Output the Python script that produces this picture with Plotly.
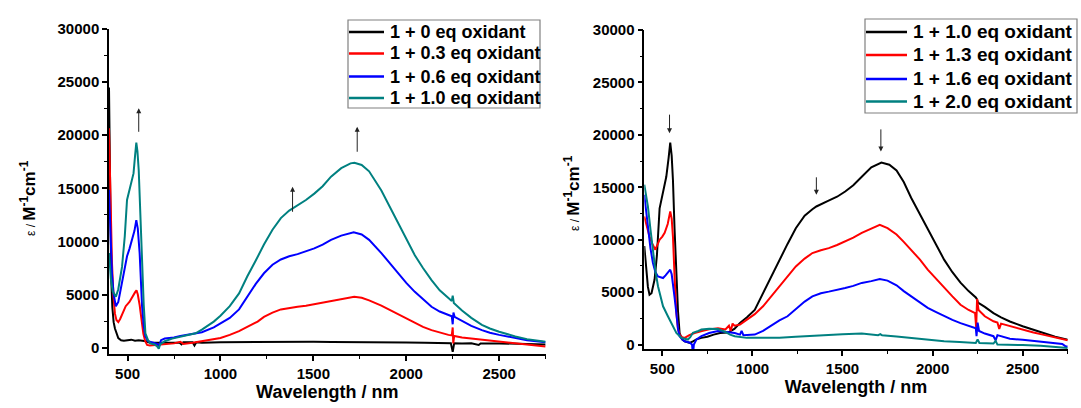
import plotly.graph_objects as go

# ---------------- Left panel data ----------------
wl_L0 = [400, 403, 407, 412, 418, 425, 432, 440, 450, 465, 480, 500, 520, 540, 560, 580, 600, 620, 650, 700, 750, 780, 790, 800, 850, 860, 870, 900, 1000, 1100, 1200, 1300, 1400, 1500, 1600, 1700, 1800, 1900, 2000, 2100, 2200, 2240, 2250, 2258, 2300, 2350, 2390, 2400, 2500, 2600, 2700, 2750]
eps_L0 = [24500, 18000, 11000, 6500, 3800, 2400, 1800, 1300, 900, 700, 650, 700, 750, 650, 700, 650, 600, 450, 450, 500, 480, 450, 300, 500, 500, 200, 500, 450, 500, 520, 530, 550, 560, 560, 540, 540, 520, 500, 480, 450, 430, 420, -400, 420, 400, 420, 250, 400, 400, 380, 350, 300]

wl_L3 = [400, 405, 410, 416, 424, 432, 440, 450, 460, 475, 490, 510, 525, 540, 548, 555, 565, 575, 585, 595, 605, 620, 650, 700, 750, 784, 800, 850, 900, 964, 1000, 1050, 1100, 1144, 1200, 1234, 1280, 1325, 1370, 1415, 1460, 1505, 1550, 1595, 1650, 1700, 1720, 1760, 1800, 1866, 1910, 1956, 2000, 2046, 2090, 2136, 2180, 2227, 2245, 2250, 2253, 2258, 2300, 2350, 2407, 2500, 2587, 2650, 2700, 2750]
eps_L3 = [20650, 15500, 11500, 8000, 4800, 3200, 2600, 2400, 2700, 3300, 3900, 4300, 4800, 5200, 5400, 5000, 4000, 2700, 1300, 600, 250, 200, 250, 300, 400, 550, 350, 450, 600, 750, 900, 1200, 1550, 1950, 2450, 2900, 3300, 3600, 3750, 3850, 3950, 4100, 4250, 4420, 4600, 4780, 4800, 4700, 4450, 3950, 3550, 3100, 2700, 2300, 1950, 1650, 1400, 1200, 1150, 1900, 400, 1100, 950, 850, 730, 550, 420, 300, 200, 100]

wl_L6 = [400, 408, 416, 425, 437, 450, 470, 485, 497, 510, 524, 537, 547, 555, 565, 572, 578, 587, 596, 610, 623, 640, 660, 670, 680, 700, 750, 784, 866, 900, 964, 1000, 1050, 1100, 1144, 1190, 1234, 1280, 1325, 1370, 1415, 1460, 1505, 1550, 1595, 1650, 1717, 1760, 1800, 1866, 1910, 1956, 2000, 2046, 2090, 2136, 2180, 2227, 2245, 2250, 2254, 2260, 2300, 2350, 2407, 2450, 2500, 2587, 2650, 2700, 2750]
eps_L6 = [14850, 10500, 7000, 5000, 3900, 4300, 6000, 7600, 8600, 9300, 10100, 11000, 12000, 11200, 8900, 6000, 3900, 2000, 1050, 600, 550, 500, 350, 150, 700, 850, 950, 1100, 1350, 1450, 1900, 2250, 2800, 3600, 4800, 6000, 7000, 7800, 8300, 8600, 8800, 9050, 9350, 9700, 10150, 10550, 10850, 10650, 10150, 8900, 7950, 7000, 6100, 5250, 4550, 3850, 3400, 3050, 2950, 2200, 3300, 2900, 2500, 2050, 1650, 1400, 1200, 880, 700, 600, 500]

wl_L10 = [400, 410, 420, 437, 450, 470, 485, 497, 515, 532, 540, 547, 553, 560, 570, 578, 587, 596, 610, 623, 645, 660, 668, 675, 700, 740, 784, 866, 900, 964, 1000, 1050, 1100, 1144, 1190, 1234, 1280, 1325, 1370, 1415, 1460, 1505, 1550, 1595, 1650, 1700, 1721, 1760, 1800, 1866, 1910, 1956, 2000, 2046, 2090, 2136, 2180, 2227, 2245, 2250, 2256, 2300, 2350, 2407, 2450, 2500, 2587, 2650, 2700, 2750]
eps_L10 = [8900, 6500, 5300, 4800, 5500, 7600, 10500, 13900, 15200, 16400, 18000, 19300, 18500, 16700, 12000, 7600, 4000, 1350, 700, 400, 300, 100, -100, 300, 600, 850, 1050, 1350, 1700, 2450, 3000, 3900, 5100, 6700, 8200, 9700, 11100, 12200, 12900, 13400, 13900, 14500, 15200, 16100, 16900, 17350, 17400, 17200, 16600, 14800, 13300, 11700, 10200, 8700, 7500, 6350, 5400, 4650, 4400, 4900, 4200, 3500, 2800, 2150, 1800, 1500, 1050, 800, 650, 550]

# ---------------- Right panel data ----------------
wl_R10 = [400, 410, 420, 429, 440, 457, 470, 485, 504, 522, 535, 544, 552, 559, 568, 578, 587, 596, 610, 624, 652, 670, 690, 717, 750, 785, 820, 864, 900, 931, 970, 1013, 1059, 1100, 1150, 1195, 1241, 1290, 1333, 1355, 1420, 1470, 1515, 1560, 1607, 1660, 1716, 1760, 1800, 1840, 1881, 1930, 1973, 2020, 2064, 2110, 2155, 2200, 2240, 2247, 2252, 2290, 2338, 2380, 2429, 2500, 2560, 2612, 2680, 2750]
eps_R10 = [9400, 7000, 5500, 4760, 4900, 6200, 8500, 13000, 14400, 16000, 17800, 19270, 18000, 15700, 11000, 6200, 3200, 1100, 500, 320, 160, 300, 500, 640, 750, 950, 1100, 1150, 1500, 2050, 2600, 3300, 4900, 6300, 8100, 9600, 11100, 12300, 12900, 13170, 13700, 14100, 14600, 15200, 16000, 16900, 17360, 17150, 16600, 15500, 14000, 12400, 10950, 9500, 8100, 6900, 5900, 5100, 4500, 4300, 4000, 3600, 3000, 2600, 2200, 1750, 1400, 1100, 750, 475]

wl_R13 = [400, 415, 429, 445, 461, 475, 485, 500, 513, 530, 544, 552, 559, 568, 578, 587, 596, 610, 624, 650, 679, 720, 760, 809, 850, 870, 880, 890, 900, 931, 970, 1013, 1059, 1100, 1150, 1195, 1241, 1290, 1333, 1380, 1424, 1470, 1515, 1560, 1607, 1660, 1707, 1750, 1800, 1840, 1881, 1930, 1973, 2020, 2064, 2110, 2155, 2200, 2236, 2242, 2247, 2255, 2290, 2338, 2360, 2370, 2380, 2429, 2500, 2560, 2612, 2680, 2750]
eps_R13 = [12220, 11300, 10300, 9600, 9050, 9600, 10000, 10300, 10650, 11500, 12700, 12000, 10300, 6500, 3000, 1500, 950, 700, 640, 900, 1100, 1300, 1450, 1550, 1450, 1800, 1300, 2000, 1800, 1900, 2400, 2900, 3650, 4500, 5550, 6500, 7450, 8200, 8730, 9000, 9200, 9500, 9850, 10200, 10650, 11050, 11430, 11100, 10500, 9800, 9050, 8100, 7150, 6250, 5400, 4600, 3800, 3300, 3000, 1600, 4350, 3300, 2700, 2220, 2100, 1500, 2000, 1750, 1400, 1150, 950, 650, 410]

wl_R16 = [400, 410, 420, 434, 448, 462, 476, 490, 504, 518, 531, 544, 552, 559, 568, 578, 587, 596, 610, 624, 650, 665, 670, 675, 690, 717, 760, 809, 850, 902, 931, 940, 950, 1013, 1059, 1100, 1150, 1195, 1241, 1290, 1333, 1380, 1424, 1470, 1515, 1560, 1607, 1660, 1707, 1750, 1800, 1840, 1881, 1930, 1973, 2020, 2064, 2110, 2155, 2200, 2240, 2244, 2250, 2258, 2290, 2338, 2350, 2360, 2429, 2500, 2560, 2612, 2680, 2720, 2740, 2750]
eps_R16 = [14290, 12600, 10950, 9200, 7780, 6900, 6500, 6400, 6350, 6600, 6830, 7140, 6700, 5880, 4500, 3000, 1500, 800, 500, 320, 200, 0, -1000, 0, 500, 800, 1100, 1300, 1200, 1100, 950, 1300, 900, 950, 1300, 1750, 2300, 2700, 3400, 4100, 4600, 4900, 5050, 5200, 5400, 5600, 5880, 6050, 6250, 6100, 5650, 5100, 4600, 4050, 3500, 3100, 2700, 2350, 2050, 1800, 1550, 800, 2100, 1300, 1050, 800, 400, 900, 550, 450, 350, 220, 100, 50, -200, -160]

wl_R20 = [400, 410, 420, 434, 448, 462, 476, 490, 504, 531, 559, 578, 606, 642, 655, 670, 700, 717, 760, 809, 850, 876, 902, 968, 1013, 1100, 1150, 1240, 1333, 1420, 1500, 1607, 1650, 1698, 1710, 1720, 1800, 1881, 1960, 2064, 2150, 2240, 2250, 2260, 2338, 2350, 2360, 2429, 2500, 2600, 2700, 2750]
eps_R20 = [15240, 14200, 13170, 11000, 8730, 7000, 5560, 4500, 3650, 2700, 1750, 1120, 640, 480, 700, 1120, 1300, 1430, 1500, 1490, 1200, 950, 800, 640, 640, 650, 640, 750, 855, 950, 980, 1050, 1000, 900, 1000, 880, 780, 640, 520, 320, 250, 160, 500, 150, 100, 350, 0, 0, -50, -100, -200, -315]

left_names = ["1 + 0 eq oxidant", "1 + 0.3 eq oxidant", "1 + 0.6 eq oxidant", "1 + 1.0 eq oxidant"]
right_names = ["1 + 1.0 eq oxidant", "1 + 1.3 eq oxidant", "1 + 1.6 eq oxidant", "1 + 2.0 eq oxidant"]
colors = ["#000000", "#ff0000", "#0000ff", "#008080"]

x_ticks = [500, 1000, 1500, 2000, 2500]
y_ticks = [0, 5000, 10000, 15000, 20000, 25000, 30000]

# arrows: (wavelength, tail eps, tip eps)
left_arrows = [(560, 20180, 22530), (1388, 12650, 15155), (1736, 18300, 20800)]
right_arrows = [(540, 22070, 20160), (1355, 16095, 14290), (1713, 20665, 18410)]

FONT = "Liberation Sans, Arial, Helvetica, sans-serif"
W, H = 1081, 408

fig = go.Figure()
left_series = [(wl_L0, eps_L0), (wl_L3, eps_L3), (wl_L6, eps_L6), (wl_L10, eps_L10)]
right_series = [(wl_R10, eps_R10), (wl_R13, eps_R13), (wl_R16, eps_R16), (wl_R20, eps_R20)]
for (xs, ys), nm, c in zip(left_series, left_names, colors):
    fig.add_trace(go.Scatter(x=xs, y=ys, mode="lines", name=nm, line=dict(color=c, width=2),
                             xaxis="x", yaxis="y", showlegend=False))
for (xs, ys), nm, c in zip(right_series, right_names, colors):
    fig.add_trace(go.Scatter(x=xs, y=ys, mode="lines", name=nm, line=dict(color=c, width=2),
                             xaxis="x2", yaxis="y2", showlegend=False))

def xax(domain, anchor):
    return dict(domain=domain, anchor=anchor, range=[400, 2750], tickvals=x_ticks, tickformat="d",
                ticks="outside", ticklen=5, tickwidth=1.5, tickcolor="black",
                minor=dict(ticks="outside", dtick=250, tick0=0, ticklen=3, tickwidth=1.2, tickcolor="black"),
                showline=True, linecolor="black", linewidth=1.5, showgrid=False, zeroline=False,
                tickfont=dict(family=FONT, size=15, color="black", weight="bold"),
                title=dict(text="Wavelength / nm", standoff=4,
                           font=dict(family=FONT, size=18, color="black", weight="bold")),
                automargin=False)

def yax(domain, anchor, ymin):
    return dict(domain=domain, anchor=anchor, range=[ymin, 30000], tickvals=y_ticks, tickformat="d",
                ticks="outside", ticklen=5, tickwidth=1.5, tickcolor="black",
                minor=dict(ticks="outside", dtick=2500, tick0=0, ticklen=3, tickwidth=1.2, tickcolor="black"),
                showline=True, linecolor="black", linewidth=1.5, showgrid=False, zeroline=False,
                tickfont=dict(family=FONT, size=15, color="black", weight="bold"),
                automargin=False)

annotations = []
for xw, tail, tip in left_arrows:
    annotations.append(dict(x=xw, y=tip, ax=xw, ay=tail, xref="x", yref="y", axref="x", ayref="y",
                            showarrow=True, arrowhead=2, arrowsize=1, arrowwidth=1, arrowcolor="#222",
                            text=""))
for xw, tail, tip in right_arrows:
    annotations.append(dict(x=xw, y=tip, ax=xw, ay=tail, xref="x2", yref="y2", axref="x2", ayref="y2",
                            showarrow=True, arrowhead=2, arrowsize=1, arrowwidth=1, arrowcolor="#222",
                            text=""))

ytitle = "<span style='font-size:12px;font-weight:normal'>ε / </span><b>M<sup>-1</sup>cm<sup>-1</sup></b>"
for xp, yp in [(28, 198), (572, 193)]:
    annotations.append(dict(x=xp / W, y=1 - yp / H, xref="paper", yref="paper", text=ytitle,
                            textangle=-90, showarrow=False, xanchor="center", yanchor="middle",
                            font=dict(family=FONT, size=17, color="black")))

# legends drawn as boxes, sample lines and text (pixel layout of the reference)
shapes = []
legend_specs = [
    # box x0, x1, y0, y1, line x0, line x1, text x, row ys, font size, names
    (348, 540, 20, 108, 349, 384, 388, [32, 53.5, 76.5, 98], 18, left_names),
    (865, 1077, 19, 113, 866, 907, 911, [32, 55, 79, 101.5], 19, right_names),
]
for bx0, bx1, by0, by1, lx0, lx1, tx, rows, fs, names in legend_specs:
    shapes.append(dict(type="rect", xref="paper", yref="paper", x0=bx0 / W, x1=bx1 / W,
                       y0=1 - by1 / H, y1=1 - by0 / H, line=dict(color="#808080", width=1.2),
                       fillcolor="rgba(0,0,0,0)"))
    for ry, nm, c in zip(rows, names, colors):
        shapes.append(dict(type="line", xref="paper", yref="paper", x0=lx0 / W, x1=lx1 / W,
                           y0=1 - ry / H, y1=1 - ry / H, line=dict(color=c, width=2.5)))
        annotations.append(dict(x=tx / W, y=1 - ry / H, xref="paper", yref="paper", text=nm,
                                showarrow=False, xanchor="left", yanchor="middle",
                                font=dict(family=FONT, size=fs, color="black", weight="bold")))

fig.update_layout(
    width=W, height=H,
    margin=dict(l=0, r=0, t=0, b=0),
    paper_bgcolor="white", plot_bgcolor="white",
    xaxis=xax([109 / W, 545.6 / W], "y"),
    yaxis=yax([(H - 354) / H, (H - 29) / H], "x", -600),
    xaxis2=xax([644.3 / W, 1067.7 / W], "y2"),
    yaxis2=yax([(H - 349.3) / H, (H - 30) / H], "x2", -450),
    annotations=annotations,
    shapes=shapes,
    showlegend=False,
)

fig.write_html("out.html", config={"displayModeBar": False},
               post_script="document.body.style.margin='0';document.body.style.padding='0';")
